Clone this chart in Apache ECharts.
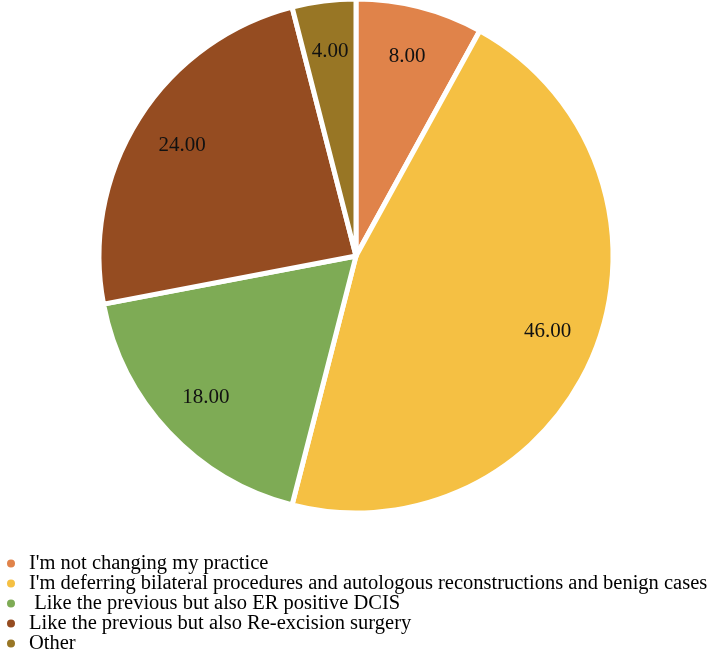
<!DOCTYPE html>
<html>
<head>
<meta charset="utf-8">
<script src="https://cdn.jsdelivr.net/npm/echarts@6/dist/echarts.min.js"></script>
<style>
html,body{margin:0;padding:0;background:#fff;}
#c{width:709px;height:662px;}
</style>
</head>
<body>
<div id="c"></div>
<script>
const categories = [
  "I'm not changing my practice",
  "I'm deferring bilateral procedures and autologous reconstructions and benign cases",
  " Like the previous but also ER positive DCIS",
  "Like the previous but also Re-excision surgery",
  "Other"
];
const values = [8, 46, 18, 24, 4];
const colors = ['#E0834A', '#F5C043', '#7EAB55', '#954C21', '#987625'];

const chart = echarts.init(document.getElementById('c'), null, {renderer: 'canvas'});
const mainData = categories.map((n, i) => ({name: n, value: values[i], itemStyle: {color: colors[i]}}));
const labelData = categories.map((n, i) => ({name: n, value: values[i]}));

chart.setOption({
  animation: false,
  backgroundColor: '#fff',
  legend: {
    orient: 'vertical',
    left: 5,
    top: 553,
    height: 110,
    icon: 'circle',
    itemWidth: 10,
    itemHeight: 10,
    itemGap: -1,
    padding: 0,
    selectedMode: false,
    data: categories,
    textStyle: {
      fontFamily: 'Liberation Serif',
      fontSize: 20.5,
      color: '#000',
      lineHeight: 19.5,
      padding: [0, 0, 0, 8]
    }
  },
  series: [
    {
      type: 'pie',
      center: [356, 256],
      radius: [0, 257],
      startAngle: 90,
      clockwise: true,
      silent: true,
      label: {show: false},
      labelLine: {show: false},
      itemStyle: {borderColor: '#fff', borderWidth: 5},
      data: mainData
    },
    {
      type: 'pie',
      center: [356, 256],
      radius: [150, 256],
      startAngle: 90,
      clockwise: true,
      silent: true,
      itemStyle: {color: 'rgba(0,0,0,0)', borderWidth: 0},
      label: {
        show: true,
        position: 'inside',
        fontFamily: 'Liberation Serif',
        fontSize: 21,
        color: '#111',
        formatter: p => p.value.toFixed(2)
      },
      labelLine: {show: false},
      data: labelData
    }
  ]
});
</script>
</body>
</html>
